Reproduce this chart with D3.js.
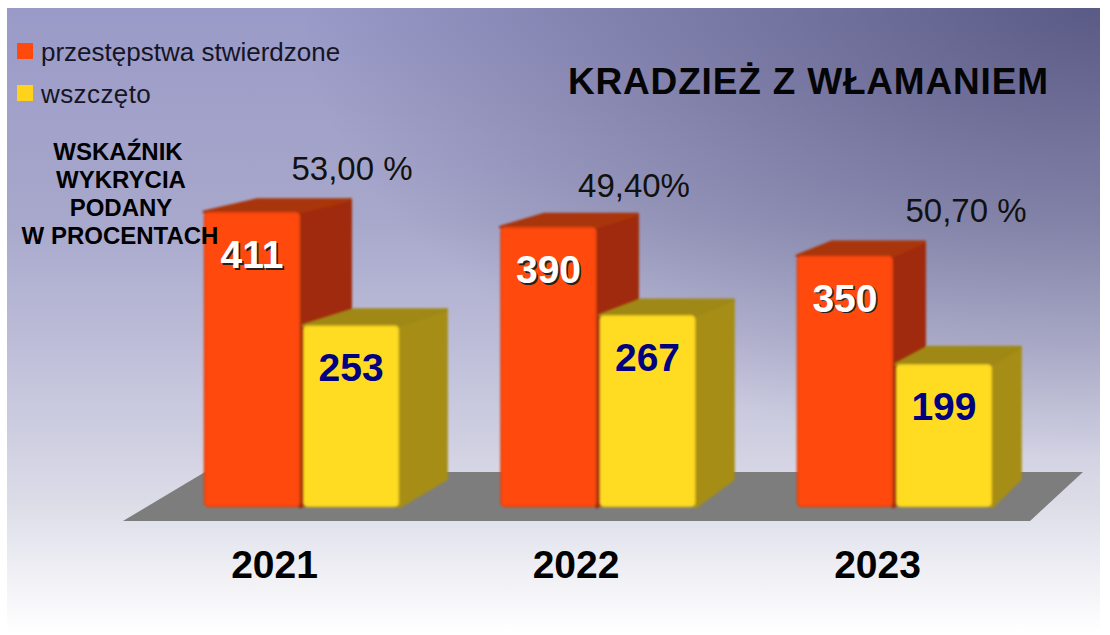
<!DOCTYPE html>
<html lang="pl"><head><meta charset="utf-8">
<script src="https://cdnjs.cloudflare.com/ajax/libs/d3/7.8.5/d3.min.js"></script>
<style>html,body{margin:0;padding:0;background:#fff}svg{display:block}text{font-family:"Liberation Sans",Arial,sans-serif}</style>
</head><body><svg id="c" width="1110" height="635"></svg>
<script>
const years = ["2021","2022","2023"];
const seriesNames = ["przestępstwa stwierdzone","wszczęto"];
const stwierdzone = [411,390,350];
const wszczeto = [253,267,199];
const rates = ["53,00 %","49,40%","50,70 %"];
const noteLines = ["WSKAŹNIK","WYKRYCIA","PODANY","W PROCENTACH"];
const title = "KRADZIEŻ Z WŁAMANIEM";

const rateCx = [352,634,966], rateBase = [180,197,222];
const noteCx = [118,121,121,120];
const colors = [
 {front:"#ff4a0c",rim:"#e0420a",side:"#a02b07",top:"#a93507"},
 {front:"#ffdc20",rim:"#e6c41c",side:"#a58d14",top:"#a08812"}
];
const svg = d3.select("#c");
const defs = svg.append("defs");
const bg = defs.append("linearGradient").attr("id","bg").attr("gradientUnits","userSpaceOnUse")
  .attr("x1",0).attr("y1",8).attr("x2",0).attr("y2",632);
[[0,"#9a9ac8"],[0.34,"#a8a8cc"],[0.53,"#bcbcd8"],[0.69,"#cfcfe2"],[0.79,"#dcdce8"],[1,"#ffffff"]]
  .forEach(([o,c])=>bg.append("stop").attr("offset",o).attr("stop-color",c));
const dark = defs.append("radialGradient").attr("id","dark").attr("gradientUnits","userSpaceOnUse")
  .attr("cx",0).attr("cy",0).attr("r",1)
  .attr("gradientTransform","translate(1100,8) scale(800,450)");
dark.append("stop").attr("offset",0).attr("stop-color","#30305a").attr("stop-opacity",.6);
dark.append("stop").attr("offset",1).attr("stop-color","#30305a").attr("stop-opacity",0);
defs.append("filter").attr("id","soft").attr("x","-5%").attr("y","-5%").attr("width","110%").attr("height","110%")
  .append("feGaussianBlur").attr("stdDeviation",0.8);

svg.append("rect").attr("x",7).attr("y",8).attr("width",1093).attr("height",624).attr("fill","url(#bg)");
svg.append("rect").attr("x",7).attr("y",8).attr("width",1093).attr("height",624).attr("fill","url(#dark)");

const x0 = d3.scaleBand().domain(years).range([204,992]).paddingInner(0.342).paddingOuter(0);
const x1 = d3.scaleBand().domain(seriesNames).range([0,x0.bandwidth()]).paddingInner(0.03);
const y = d3.scaleLinear().domain([0,411]).range([507,212]);
const back = (px,py)=>[px+60-0.032*px, py-(6+0.03*py)];

const floorFront = y(0)+14, floorBack = y(0)-35;
svg.append("polygon").attr("fill","#7d7d7d").attr("points",
  [[123,floorFront],[205,floorBack],[1083,floorBack],[1030,floorFront]].join(" "));

const poly = pts=>pts.join(" ");
const rows = years.flatMap((yr,i)=>[
  {yr,i,s:0,v:stwierdzone[i]},
  {yr,i,s:1,v:wszczeto[i]}
]);
const g = svg.selectAll("g.bar").data(rows).join("g").attr("class","bar").attr("filter","url(#soft)");
g.each(function(d){
  const sel = d3.select(this), c = colors[d.s];
  const l = x0(d.yr)+x1(seriesNames[d.s]), r = l+x1.bandwidth(), t = y(d.v), b = y(0);
  const tlB = back(l,t), trB = back(r,t), brB = [back(r,b)[0], b-28];
  sel.append("polygon").attr("points",poly([[r,t],trB,brB,[r,b]]))
     .attr("fill",c.side).attr("stroke",c.side).attr("stroke-width",3).attr("stroke-linejoin","round");
  sel.append("polygon").attr("points",poly([[l,t],tlB,trB,[r,t]]))
     .attr("fill",c.top).attr("stroke",c.top).attr("stroke-width",3).attr("stroke-linejoin","round");
  sel.append("rect").attr("x",l+0.5).attr("y",t+0.5).attr("width",r-l-1).attr("height",b-t-1).attr("rx",4)
     .attr("fill",c.front).attr("stroke",c.rim).attr("stroke-width",1.5);
});

svg.selectAll("text.val").data(rows).join("text").attr("class","val")
  .attr("x",d=>x0(d.yr)+x1(seriesNames[d.s])+x1.bandwidth()/2)
  .attr("y",d=>y(d.v)+56).attr("text-anchor","middle")
  .attr("font-size",39).attr("font-weight","bold")
  .attr("fill",d=>d.s?"#000080":"#ffffff")
  .attr("style",d=>d.s?null:"text-shadow:1.5px 1.5px 0 #222")
  .text(d=>d.v);

const xAxis = d3.axisBottom(d3.scalePoint().domain(years).range([274,877])).tickSize(0).tickPadding(0);
const ax = svg.append("g").attr("transform","translate(0,547)").call(xAxis);
ax.select(".domain").remove();
ax.selectAll("text").attr("font-size",39).attr("font-weight","bold").attr("fill","#000")
  .attr("font-family","'Liberation Sans',Arial,sans-serif").attr("dy",0).attr("y",31);

svg.append("text").attr("x",568).attr("y",94).attr("font-size",37).attr("font-weight","bold").attr("fill","#050505")
  .attr("textLength",480).attr("lengthAdjust","spacing").text(title);

svg.selectAll("text.rate").data(rates).join("text").attr("class","rate")
  .attr("x",(d,i)=>rateCx[i]).attr("y",(d,i)=>rateBase[i]).attr("text-anchor","middle")
  .attr("font-size",33).attr("fill","#111").text(d=>d);

svg.selectAll("text.note").data(noteLines).join("text").attr("class","note")
  .attr("x",(d,i)=>noteCx[i]).attr("y",(d,i)=>160+i*28).attr("text-anchor","middle")
  .attr("font-size",24).attr("font-weight","bold").attr("fill","#000").text(d=>d);

const legY = d3.scalePoint().domain(seriesNames).range([52,94]);
const lg = svg.selectAll("g.leg").data(seriesNames).join("g").attr("class","leg")
  .attr("transform",d=>`translate(0,${legY(d)})`);
lg.append("rect").attr("x",17).attr("y",-9).attr("width",16).attr("height",16)
  .attr("fill",(d,i)=>["#ff4a0c","#ffd21c"][i]);
lg.append("text").attr("x",41).attr("y",9).attr("font-size",26).attr("fill","#151525")
  .attr("letter-spacing",(d,i)=>i?0.4:0).text(d=>d);
</script></body></html>
